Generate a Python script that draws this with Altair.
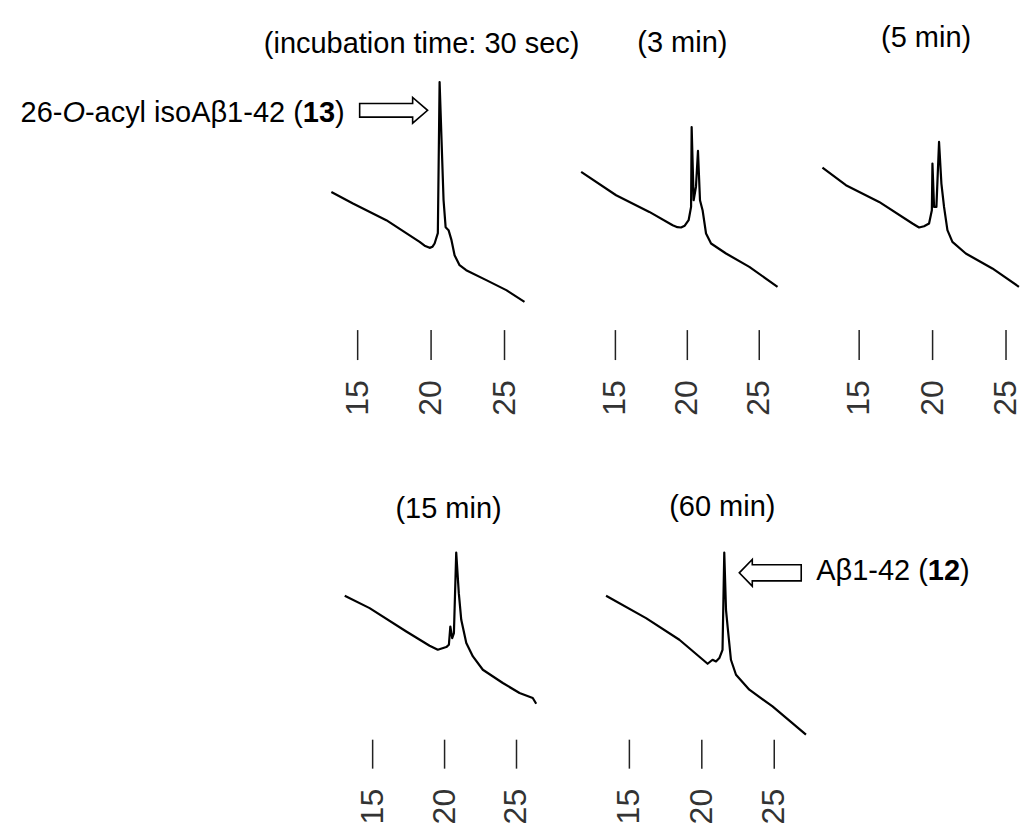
import altair as alt
import pandas as pd

# ---------------- data (retention time in min, detector response in a.u.) ----------------
ticks = [15, 20, 25]
tick_labels = ["15", "20", "25"]

titles = ["(incubation time: 30 sec)", "(3 min)", "(5 min)", "(15 min)", "(60 min)"]

t_30s = [13.21, 14.68, 16.95, 19.22, 19.56, 19.90, 20.10, 20.24, 20.46, 20.58, 20.85, 20.99, 21.19, 21.39, 21.60, 21.94, 22.39, 23.76, 25.12, 26.36]
a_30s = [128.3, 116.7, 100.0, 78.3, 74.5, 72.3, 73.5, 76.7, 87.0, 238.3, 120.0, 93.0, 90.0, 80.0, 65.0, 55.0, 50.0, 40.0, 30.0, 18.3]

t_3m = [12.62, 15.05, 17.36, 18.98, 19.31, 19.56, 19.82, 20.09, 20.26, 20.30, 20.44, 20.60, 20.74, 20.88, 21.06, 21.30, 21.65, 22.69, 24.31, 26.27]
a_3m = [148.3, 125.0, 108.3, 95.0, 93.0, 92.7, 94.5, 100.0, 113.3, 193.3, 120.0, 133.3, 169.3, 120.0, 110.0, 86.7, 76.7, 66.7, 53.3, 33.3]

t_5m = [12.50, 14.10, 16.36, 18.63, 18.88, 19.08, 19.42, 19.76, 19.95, 19.99, 20.10, 20.26, 20.44, 20.60, 20.78, 21.01, 21.35, 22.26, 24.07, 25.88]
a_5m = [152.7, 135.0, 118.3, 96.7, 94.5, 92.7, 94.0, 96.7, 110.0, 156.7, 113.3, 113.3, 178.3, 136.7, 113.3, 90.0, 78.3, 66.7, 51.7, 33.3]

t_15m = [13.06, 14.79, 17.34, 18.96, 19.53, 20.12, 20.30, 20.40, 20.53, 20.65, 20.81, 20.99, 21.16, 21.51, 21.97, 22.66, 24.05, 25.21, 26.13, 26.37]
a_15m = [124.0, 111.7, 88.3, 74.0, 70.0, 72.7, 75.0, 93.3, 81.7, 86.7, 167.3, 126.7, 100.0, 76.7, 63.3, 50.0, 36.7, 26.7, 21.7, 16.0]

t_60m = [13.39, 16.15, 18.45, 20.40, 20.74, 20.98, 21.21, 21.43, 21.55, 21.67, 21.78, 22.01, 22.36, 23.28, 24.88, 27.19]
a_60m = [124.0, 101.7, 80.0, 56.0, 60.0, 58.3, 61.7, 70.0, 167.3, 110.0, 93.3, 60.0, 45.0, 30.0, 13.3, -15.0]

series = [(t_30s, a_30s), (t_3m, a_3m), (t_5m, a_5m), (t_15m, a_15m), (t_60m, a_60m)]

# ---------------- layout (page pixels) ----------------
OFF = 8
FONT = "Liberation Sans"
FS = 29
layout = [
    dict(x15=358, x25=505, base=320, tt=330, tb=360, ly=398, tx=422, ty=44),
    dict(x15=616, x25=760, base=320, tt=330, tb=360, ly=398, tx=683, ty=43),
    dict(x15=860, x25=1007, base=320, tt=330, tb=360, ly=398, tx=927, ty=38),
    dict(x15=373, x25=517, base=720, tt=740, tb=769, ly=807, tx=449, ty=509),
    dict(x15=630, x25=775, base=720, tt=740, tb=769, ly=807, tx=723, ty=507),
]


def panel(t, a, L, title):
    xs = alt.Scale(domain=[15, 25], range=[L["x15"] - OFF, L["x25"] - OFF], nice=False, zero=False)
    ys = alt.Scale(domain=[0, 100], range=[L["base"] - OFF, L["base"] - 100 - OFF], nice=False, zero=False)
    df = pd.DataFrame({"t": t, "a": a, "o": list(range(len(t)))})
    line = alt.Chart(df).mark_line(color="black", strokeWidth=2.2, strokeJoin="round").encode(
        x=alt.X("t:Q", scale=xs, axis=None),
        y=alt.Y("a:Q", scale=ys, axis=None),
        order="o:Q",
    )
    tk = pd.DataFrame({"t": ticks, "lab": tick_labels})
    rules = alt.Chart(tk).mark_rule(color="#222", strokeWidth=1.5).encode(
        x=alt.X("t:Q", scale=xs, axis=None),
        y=alt.value(L["tt"] - OFF),
        y2=alt.value(L["tb"] - OFF),
    )
    labs = alt.Chart(tk).mark_text(angle=270, fontSize=32, font=FONT, color="#333",
                                   align="center", baseline="middle").encode(
        x=alt.X("t:Q", scale=xs, axis=None),
        y=alt.value(L["ly"] - OFF),
        text="lab:N",
    )
    ttl = alt.Chart(pd.DataFrame({"s": [title]})).mark_text(
        fontSize=FS, font=FONT, color="black", align="center", baseline="middle").encode(
        x=alt.value(L["tx"] - OFF), y=alt.value(L["ty"] - OFF), text="s:N")
    return alt.layer(line, rules, labs, ttl)


def txt(s, x, y, align, weight="normal", style="normal"):
    return alt.Chart(pd.DataFrame({"s": [s]})).mark_text(
        fontSize=FS, font=FONT, color="black", align=align, baseline="middle",
        fontWeight=weight, fontStyle=style).encode(
        x=alt.value(x - OFF), y=alt.value(y - OFF), text="s:N")


def arrow(path, x, y, length):
    return alt.Chart(pd.DataFrame({"k": [0]})).mark_point(
        shape=path, size=length * length, filled=True, fill="white", stroke="black",
        strokeWidth=1.6, opacity=1).encode(x=alt.value(x - OFF), y=alt.value(y - OFF))


R_ARROW = "M -1 -0.2 L 0.56 -0.2 L 0.56 -0.38 L 1 0 L 0.56 0.38 L 0.56 0.2 L -1 0.2 Z"
L_ARROW = "M 1 -0.26 L -0.58 -0.26 L -0.58 -0.43 L -1 0 L -0.58 0.43 L -0.58 0.26 L 1 0.26 Z"

# label "26-O-acyl isoAβ1-42 (13)" right-aligned pieces
rx, ry = 345, 113
em = FS
lab1 = [
    txt(")", rx, ry, "right"),
    txt("13", rx - 0.333 * em, ry, "right", weight="bold"),
    txt("-acyl isoAβ1-42 (", rx - 1.445 * em, ry, "right"),
    txt("O", rx - 8.965 * em, ry, "right", style="italic"),
    txt("26-", rx - 9.743 * em, ry, "right"),
]
lx, ly2 = 817, 571
lab2 = [
    txt("Aβ1-42 (", lx, ly2, "left"),
    txt("12", lx + 3.853 * em, ly2, "left", weight="bold"),
    txt(")", lx + 4.965 * em, ly2, "left"),
]

panels = [panel(t, a, L, ti) for (t, a), L, ti in zip(series, layout, titles)]
annots = lab1 + lab2 + [arrow(R_ARROW, 394, 110, 68), arrow(L_ARROW, 771, 573, 62)]

chart = alt.layer(*panels, *annots).resolve_scale(x="independent", y="independent").properties(
    width=1014, height=819, padding=0, background="white"
).configure_view(stroke=None)

chart.save("out.html", embed_options={"renderer": "svg", "actions": False})
